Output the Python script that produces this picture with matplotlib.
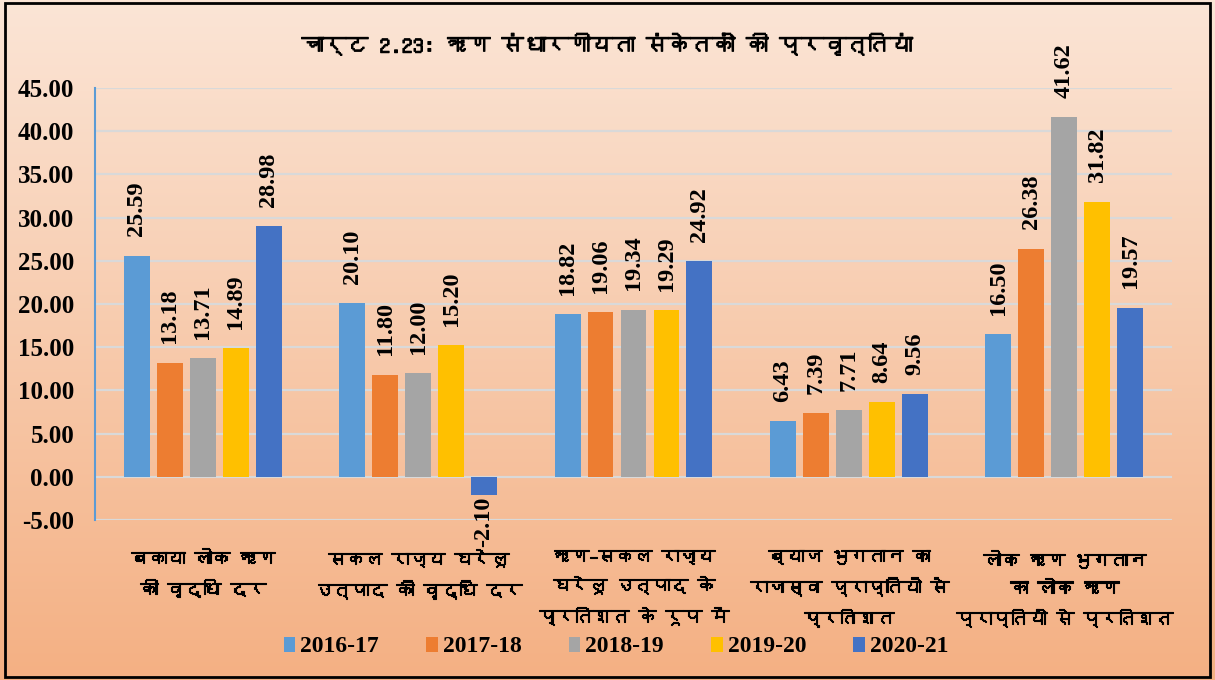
import numpy as np
import matplotlib
matplotlib.use('Agg')
from matplotlib import pyplot as plt
from matplotlib import font_manager
from matplotlib import patheffects
from matplotlib.ft2font import FT2Font
from matplotlib.patches import Rectangle

# data
categories = ['बकाया लोक ऋण\nकी वृद्धि दर',
              'सकल राज्य घरेलू\nउत्पाद की वृद्धि दर',
              'ऋण–सकल राज्य\nघरेलू उत्पाद के\nप्रतिशत के रूप में',
              'ब्याज भुगतान का\nराजस्व प्राप्तियो से\nप्रतिशत',
              'लोक ऋण भुगतान\nका लोक ऋण\nप्राप्तियों से प्रतिशत']
years = ['2016-17', '2017-18', '2018-19', '2019-20', '2020-21']
v2016 = [25.59, 20.10, 18.82, 6.43, 16.50]
v2017 = [13.18, 11.80, 19.06, 7.39, 26.38]
v2018 = [13.71, 12.00, 19.34, 7.71, 41.62]
v2019 = [14.89, 15.20, 19.29, 8.64, 31.82]
v2020 = [28.98, -2.10, 24.92, 9.56, 19.57]
series = [v2016, v2017, v2018, v2019, v2020]
colors = ['#5B9BD5', '#ED7D31', '#A5A5A5', '#FFC000', '#4472C4']
title = 'चार्ट 2.23: ऋण संधारणीयता संकेतकों की प्रवृत्तियां'


# look for an installed font that has Devanagari glyphs
def find_font(ch):
    for f in font_manager.fontManager.ttflist:
        try:
            if ord(ch) in FT2Font(f.fname).get_charmap():
                return f.name
        except Exception:
            pass
    return None


hindi = find_font('क')
hindi_family = [hindi, 'DejaVu Sans'] if hindi else ['DejaVu Sans']
num_family = 'Liberation Serif'
plt.rcParams['font.family'] = [num_family, 'DejaVu Serif']
plt.rcParams['font.weight'] = 'bold'
# fake bold for the Hindi text
thick = [patheffects.withStroke(linewidth=0.8, foreground='black')]

fig = plt.figure(figsize=(12.15, 6.8), dpi=100)

# gradient background
bg = fig.add_axes([0, 0, 1, 1], zorder=-10)
top = np.array([251, 229, 214]) / 255
bot = np.array([244, 176, 131]) / 255
t = np.linspace(0, 1, 256)[:, None]
grad = top[None, :] * (1 - t) + bot[None, :] * t
bg.imshow(grad[:, None, :], aspect='auto', extent=[0, 1, 0, 1])
bg.axis('off')

fig.patches.append(Rectangle((0.004, 0.004), 0.992, 0.992, transform=fig.transFigure,
                             fill=False, edgecolor='black', lw=2, zorder=10))

ax = fig.add_axes([95 / 1215, 1 - 520 / 680, (1172 - 95) / 1215, (520 - 88) / 680])
ax.set_facecolor('none')

x = np.arange(len(categories))
step = 0.153
width = 0.12
for j, (vals, c, yr) in enumerate(zip(series, colors, years)):
    pos = x + (j - 2) * step
    bars = ax.bar(pos, vals, width, color=c, label=yr, zorder=3)
    for xp, v in zip(pos, vals):
        ax.annotate('%.2f' % v, (xp, v), xytext=(0, 14 if v >= 0 else -1),
                    textcoords='offset points', rotation=90, ha='center',
                    va='bottom' if v >= 0 else 'top', fontsize=17.5,
                    fontweight='bold', zorder=5)

ax.set_xlim(-0.5, len(categories) - 0.5)
ax.set_ylim(-5, 45)
ax.set_yticks(np.arange(-5, 46, 5))
ax.set_yticklabels(['%.2f' % v for v in np.arange(-5, 46, 5)],
                   fontsize=18, fontweight='bold')
ax.yaxis.grid(True, color='#D9D9D9', lw=1.6, zorder=0)
ax.tick_params(length=0, pad=15)
for s in ['top', 'right', 'bottom']:
    ax.spines[s].set_visible(False)
ax.spines['left'].set_color('#5B9BD5')
ax.spines['left'].set_linewidth(1.5)

ax.set_xticks(x)
ax.set_xticklabels(categories, fontsize=13, family=hindi_family,
                   fontweight='normal', linespacing=1.7, va='top')
for lab in ax.get_xticklabels():
    lab.set_path_effects(thick)
ax.tick_params(axis='x', pad=21)

fig.text(0.5, 1 - 45 / 680, title, ha='center', va='center', fontsize=16,
         family=hindi_family, fontweight='normal', path_effects=thick)

leg = fig.legend(loc='center', bbox_to_anchor=(616 / 1215, 1 - 647 / 680), ncol=5,
                 frameon=False, handlelength=0.5, handleheight=0.6, fontsize=17,
                 handletextpad=0.2, columnspacing=2.0)

fig.savefig('out.png', dpi=100)
